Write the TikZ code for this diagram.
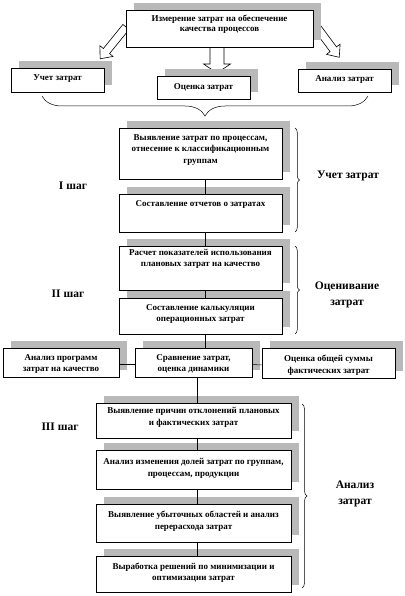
\documentclass[tikz,border=0pt]{standalone}
\usepackage{fontspec}
\setmainfont{Liberation Serif}
\usetikzlibrary{decorations.pathreplacing,calc}
\pgfdeclarelayer{arrowlayer}
\pgfdeclarelayer{shadowlayer}
\pgfsetlayers{arrowlayer,shadowlayer,main}
\newcommand\boxshadow[1]{%
  \begin{pgfonlayer}{shadowlayer}
    \fill[gray!55] ($(#1.south west)+(8,-7)$) rectangle ($(#1.north east)+(8,-7)$);
  \end{pgfonlayer}}
\begin{document}
\begin{tikzpicture}[x=1pt,y=-1pt,
  box/.style={draw, line width=0.6pt, fill=white, inner sep=0pt},
  txt/.style={font=\bfseries\fontsize{9}{11.5}\selectfont, align=center, inner sep=0pt},
  lab/.style={font=\bfseries\fontsize{11.5}{15.5}\selectfont, align=center, inner sep=0pt},
  conn/.style={line width=0.5pt},
  brc/.style={decorate, decoration={brace, amplitude=#1}, line width=0.5pt},
  barrow/.style={draw, line width=0.6pt, fill=white}]
\useasboundingbox (0,0) rectangle (404,596);

% block arrows
\begin{pgfonlayer}{arrowlayer}
\draw[barrow, shift={(126,27)}, rotate=230.9]
  (0,-4) -- (31,-4) -- (31,-8.5) -- (41,0) -- (31,8.5) -- (31,4) -- (0,4) -- cycle;
\draw[barrow, shift={(316,26)}, rotate=-53.4]
  (0,-4) -- (29,-4) -- (29,-8.5) -- (39,0) -- (29,8.5) -- (29,4) -- (0,4) -- cycle;
\draw[barrow, shift={(217,46)}, rotate=-90]
  (0,-7) -- (18,-7) -- (18,-13.5) -- (27,0) -- (18,13.5) -- (18,7) -- (0,7) -- cycle;
\end{pgfonlayer}

% top box
\node[box, minimum width=187pt, minimum height=37pt] (top) at (219.5,28.5) {};
\node[txt, font=\bfseries\fontsize{9}{10.5}\selectfont] (topt) at (219.5,24) {Измерение затрат на обеспечение\\качества процессов};

% second row
\node[box, minimum width=93pt, minimum height=24pt] (uch) at (57.5,80) {};
\node[txt] (ucht) at (57.5,78.5) {Учет затрат};
\node[box, minimum width=93pt, minimum height=23pt] (oc) at (203.5,87.5) {};
\node[txt] (oct) at (203.5,87) {Оценка затрат};
\node[box, minimum width=93pt, minimum height=23pt] (an) at (344.5,80.5) {};
\node[txt] (ant) at (344.5,79.5) {Анализ затрат};

\draw[brc=20pt] (368,96) -- (42,96);

% step I
\node[box, minimum width=163pt, minimum height=51pt] (s1a) at (200.5,153.5) {};
\node[txt] (s1at) at (200.5,150) {Выявление затрат по процессам,\\отнесение к классификационным\\группам};
\node[box, minimum width=163pt, minimum height=38pt] (s1b) at (200.5,213) {};
\node[txt] (s1bt) at (200.5,204.5) {Составление отчетов о затратах};

% step II
\node[box, minimum width=163pt, minimum height=44pt] (s2a) at (200.5,268) {};
\node[txt] (s2at) at (200.5,259) {Расчет показателей использования\\плановых затрат на качество};
\node[box, minimum width=163pt, minimum height=36pt] (s2b) at (200.5,316) {};
\node[txt] (s2bt) at (200.5,314) {Составление калькуляции\\операционных затрат};

% third row
\node[box, minimum width=116pt, minimum height=29pt] (r3a) at (61,362.5) {};
\node[txt] (r3at) at (61,364) {Анализ программ\\затрат на качество};
\node[box, minimum width=117pt, minimum height=29pt] (r3b) at (193.5,362.5) {};
\node[txt] (r3bt) at (193.5,364) {Сравнение затрат,\\оценка динамики};
\node[box, minimum width=133pt, minimum height=30pt] (r3c) at (328.5,363) {};
\node[txt] (r3ct) at (328.5,365) {Оценка общей суммы\\фактических затрат};

% step III
\node[box, minimum width=195pt, minimum height=35pt] (s3a) at (193.5,420.5) {};
\node[txt] (s3at) at (193.5,417.5) {Выявление причин отклонений плановых\\и фактических затрат};
\node[box, minimum width=195pt, minimum height=39pt] (s3b) at (193.5,469.5) {};
\node[txt] (s3bt) at (193.5,468.5) {Анализ изменения долей затрат по группам,\\процессам, продукции};
\node[box, minimum width=195pt, minimum height=38pt] (s3c) at (193.5,523) {};
\node[txt] (s3ct) at (193.5,521) {Выявление убыточных областей и анализ\\перерасхода затрат};
\node[box, minimum width=195pt, minimum height=36pt] (s3d) at (193.5,574) {};
\node[txt] (s3dt) at (193.5,572.5) {Выработка решений по минимизации и\\оптимизации затрат};

% shadows
\boxshadow{top}
\boxshadow{uch}\boxshadow{oc}\boxshadow{an}
\boxshadow{s1a}\boxshadow{s1b}\boxshadow{s2a}\boxshadow{s2b}
\boxshadow{r3a}\boxshadow{r3b}\boxshadow{r3c}
\boxshadow{s3a}\boxshadow{s3b}\boxshadow{s3c}\boxshadow{s3d}

% connectors
\coordinate (colA) at (205,0);
\coordinate (colB) at (197,0);
\draw[conn] (s1a.south -| colA) -- (s1b.north -| colA);
\draw[conn] (s1b.south -| colA) -- (s2a.north -| colA);
\draw[conn] (s2a.south -| colA) -- (s2b.north -| colA);
\draw[conn] (s2b.south -| colA) -- (r3b.north -| colA);
\draw[conn] ($(r3a.east)+(0,2)$) -- ($(r3b.west)+(0,2)$);
\draw[conn] ($(r3b.east)+(0,2)$) -- ($(r3c.west)+(0,2)$);
\draw[conn] (r3b.south -| colB) -- (s3a.north -| colB);
\draw[conn] (s3a.south -| colB) -- (s3b.north -| colB);
\draw[conn] (s3b.south -| colB) -- (s3c.north -| colB);
\draw[conn] (s3c.south -| colB) -- (s3d.north -| colB);

% braces
\draw[brc=4.5pt] (295,128) -- (295,232);
\draw[brc=4.5pt] (295,246) -- (295,334);
\draw[brc=5pt] (302,404) -- (302,588);

% labels
\node[lab] (l1) at (348,176) {Учет затрат};
\node[lab] (l2) at (347,295) {Оценивание\\затрат};
\node[lab] (l3) at (355,494) {Анализ\\затрат};
\node[lab] (st1) at (73,186) {I шаг};
\node[lab] (st2) at (68,294) {II шаг};
\node[lab] (st3) at (60,427) {III шаг};
\end{tikzpicture}
\end{document}
